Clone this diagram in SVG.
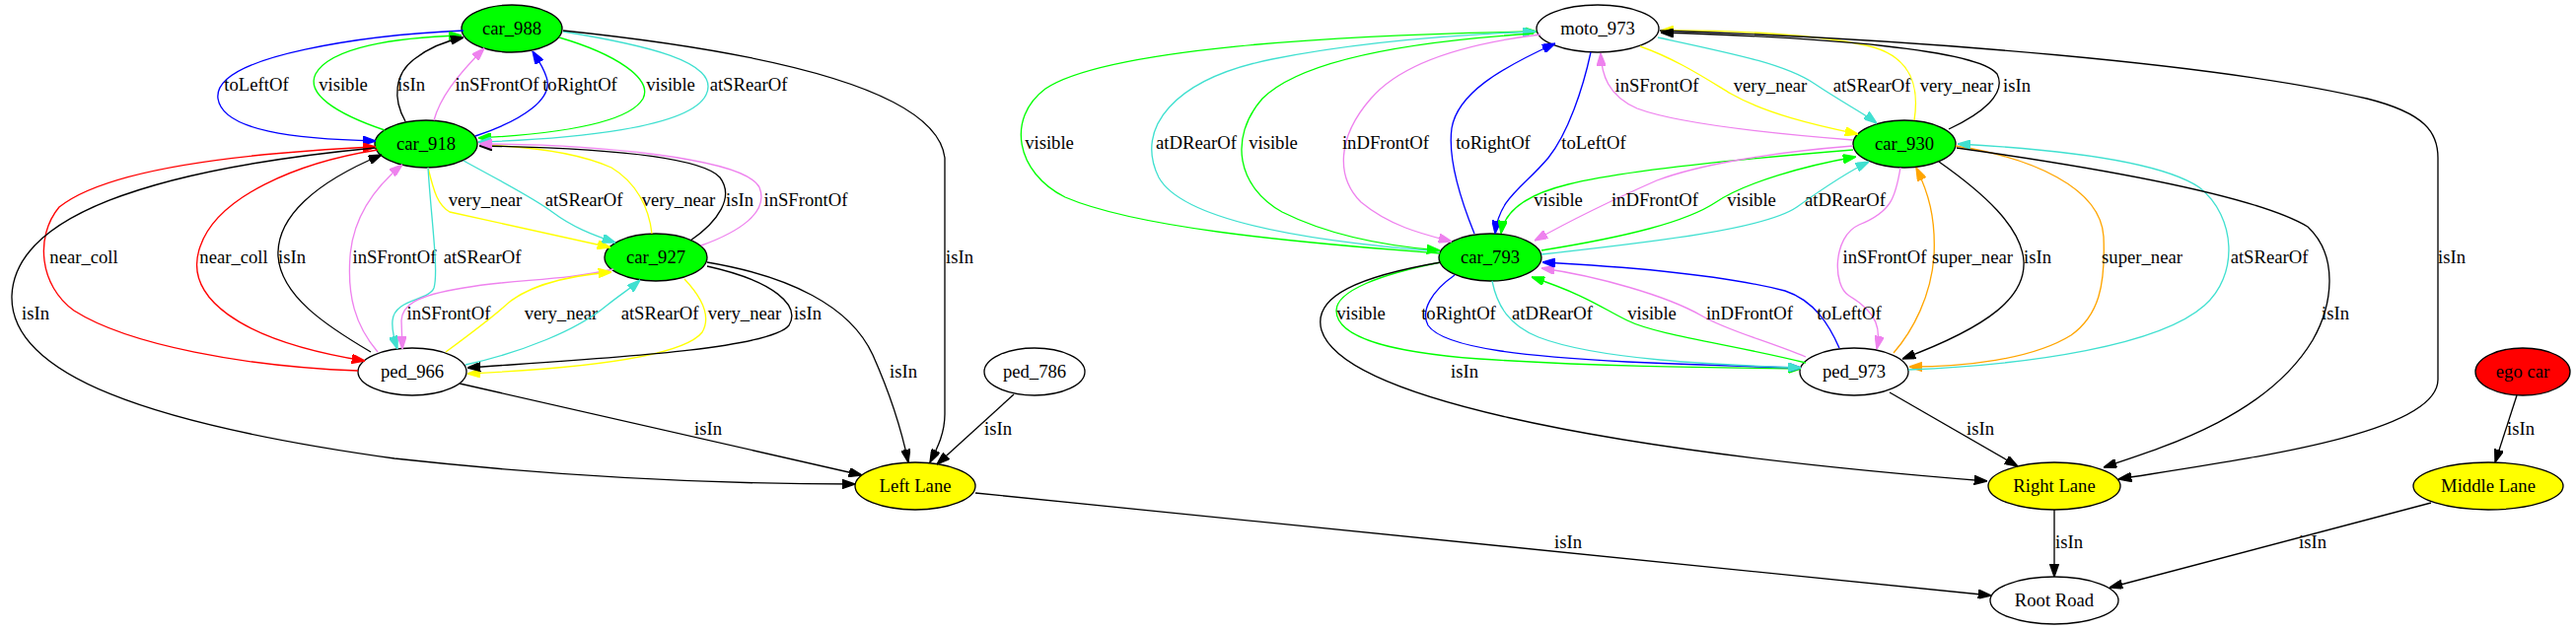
<svg xmlns="http://www.w3.org/2000/svg" width="2612" height="639" viewBox="0 0 2612 639">
<style>
.nd ellipse{stroke:#000;stroke-width:1.33}
.lime{fill:#00ff00}.yel{fill:#ffff00}.wht{fill:#ffffff}.red{fill:#ff0000}
text{font-family:"Liberation Serif","Times New Roman",serif;font-size:18.67px;text-anchor:middle;fill:#000}
.e{fill:none;stroke-width:1.33}
.k{stroke:#000000}.b{stroke:#0000ff}.g{stroke:#00ff00}.r{stroke:#ff0000}.v{stroke:#ee82ee}.c{stroke:#40e0d0}.y{stroke:#ffff00}.o{stroke:#ffa500}
</style>
<defs>
<marker id="ak" viewBox="0 0 10 7" refX="10" refY="3.5" markerWidth="13.3" markerHeight="9.3" markerUnits="userSpaceOnUse" orient="auto"><path d="M0,0L10,3.5L0,7z" fill="#000000" stroke="#000000"/></marker>
<marker id="ab" viewBox="0 0 10 7" refX="10" refY="3.5" markerWidth="13.3" markerHeight="9.3" markerUnits="userSpaceOnUse" orient="auto"><path d="M0,0L10,3.5L0,7z" fill="#0000ff" stroke="#0000ff"/></marker>
<marker id="ag" viewBox="0 0 10 7" refX="10" refY="3.5" markerWidth="13.3" markerHeight="9.3" markerUnits="userSpaceOnUse" orient="auto"><path d="M0,0L10,3.5L0,7z" fill="#00ff00" stroke="#00ff00"/></marker>
<marker id="ar" viewBox="0 0 10 7" refX="10" refY="3.5" markerWidth="13.3" markerHeight="9.3" markerUnits="userSpaceOnUse" orient="auto"><path d="M0,0L10,3.5L0,7z" fill="#ff0000" stroke="#ff0000"/></marker>
<marker id="av" viewBox="0 0 10 7" refX="10" refY="3.5" markerWidth="13.3" markerHeight="9.3" markerUnits="userSpaceOnUse" orient="auto"><path d="M0,0L10,3.5L0,7z" fill="#ee82ee" stroke="#ee82ee"/></marker>
<marker id="ac" viewBox="0 0 10 7" refX="10" refY="3.5" markerWidth="13.3" markerHeight="9.3" markerUnits="userSpaceOnUse" orient="auto"><path d="M0,0L10,3.5L0,7z" fill="#40e0d0" stroke="#40e0d0"/></marker>
<marker id="ay" viewBox="0 0 10 7" refX="10" refY="3.5" markerWidth="13.3" markerHeight="9.3" markerUnits="userSpaceOnUse" orient="auto"><path d="M0,0L10,3.5L0,7z" fill="#ffff00" stroke="#ffff00"/></marker>
<marker id="ao" viewBox="0 0 10 7" refX="10" refY="3.5" markerWidth="13.3" markerHeight="9.3" markerUnits="userSpaceOnUse" orient="auto"><path d="M0,0L10,3.5L0,7z" fill="#ffa500" stroke="#ffa500"/></marker>
</defs>
<rect width="2612" height="639" fill="#ffffff"/>
<g id="nodes">
<g id="car_988" class="nd"><ellipse class="lime" cx="519" cy="29" rx="51" ry="24"/><text x="519" y="35">car_988</text></g>
<g id="car_918" class="nd"><ellipse class="lime" cx="432" cy="146" rx="52" ry="24"/><text x="432" y="152">car_918</text></g>
<g id="car_927" class="nd"><ellipse class="lime" cx="665" cy="261" rx="52" ry="24"/><text x="665" y="267">car_927</text></g>
<g id="ped_966" class="nd"><ellipse class="wht" cx="418" cy="377" rx="55" ry="24"/><text x="418" y="383">ped_966</text></g>
<g id="ped_786" class="nd"><ellipse class="wht" cx="1049" cy="377" rx="51" ry="24"/><text x="1049" y="383">ped_786</text></g>
<g id="left_lane" class="nd"><ellipse class="yel" cx="928" cy="493" rx="61" ry="24"/><text x="928" y="499">Left Lane</text></g>
<g id="moto_973" class="nd"><ellipse class="wht" cx="1620" cy="29" rx="62" ry="24"/><text x="1620" y="35">moto_973</text></g>
<g id="car_930" class="nd"><ellipse class="lime" cx="1931" cy="146" rx="52" ry="24"/><text x="1931" y="152">car_930</text></g>
<g id="car_793" class="nd"><ellipse class="lime" cx="1511" cy="261" rx="52" ry="24"/><text x="1511" y="267">car_793</text></g>
<g id="ped_973" class="nd"><ellipse class="wht" cx="1880" cy="377" rx="55" ry="24"/><text x="1880" y="383">ped_973</text></g>
<g id="right_lane" class="nd"><ellipse class="yel" cx="2083" cy="493" rx="67" ry="24"/><text x="2083" y="499">Right Lane</text></g>
<g id="middle_lane" class="nd"><ellipse class="yel" cx="2523" cy="493" rx="76" ry="24"/><text x="2523" y="499">Middle Lane</text></g>
<g id="ego_car" class="nd"><ellipse class="red" cx="2558" cy="377" rx="48" ry="24"/><text x="2558" y="383">ego car</text></g>
<g id="root_road" class="nd"><ellipse class="wht" cx="2083" cy="609" rx="65" ry="24"/><text x="2083" y="615">Root Road</text></g>
</g>
<g id="connectors">
<g><path class="e b" d="M470,31 C380,35 215,55 221,100 C226,133 300,141 381,143" marker-end="url(#ab)"/><text x="260" y="92">toLeftOf</text></g>
<g><path class="e g" d="M390,132 C340,115 310,95 320,75 C335,48 400,38 468,36" marker-end="url(#ag)"/><text x="348" y="92">visible</text></g>
<g><path class="e k" d="M411,123 C398,100 400,75 420,60 C435,48 450,42 470,38" marker-end="url(#ak)"/><text x="417" y="92">isIn</text></g>
<g><path class="e v" d="M440,122 C446,100 462,78 491,49" marker-end="url(#av)"/><text x="504" y="92">inSFrontOf</text></g>
<g><path class="e b" d="M482,138 C530,122 562,100 554,78 C550,66 545,60 540,52" marker-end="url(#ab)"/><text x="588" y="92">toRightOf</text></g>
<g><path class="e g" d="M567,38 C625,55 662,80 652,100 C637,126 560,136 485,140" marker-end="url(#ag)"/><text x="680" y="92">visible</text></g>
<g><path class="e c" d="M571,32 C650,45 732,62 716,96 C700,130 580,141 485,144" marker-end="url(#ac)"/><text x="759" y="92">atSRearOf</text></g>
<g><path class="e k" d="M571,31 C800,55 950,95 958,160 L958,420 C958,440 950,455 943,469" marker-end="url(#ak)"/><text x="973" y="267">isIn</text></g>
<g><path class="e y" d="M434,170 C440,195 444,208 456,215 L619,251" marker-end="url(#ay)"/><text x="492" y="209">very_near</text></g>
<g><path class="e c" d="M470,163 C510,185 540,200 560,215 C580,230 600,238 624,246" marker-end="url(#ac)"/><text x="592" y="209">atSRearOf</text></g>
<g><path class="e y" d="M661,237 C658,210 645,185 620,170 C580,152 520,148 486,147" marker-end="url(#ay)"/><text x="688" y="209">very_near</text></g>
<g><path class="e k" d="M700,244 C728,225 745,200 730,180 C710,158 600,150 486,148" marker-end="url(#ak)"/><text x="750" y="209">isIn</text></g>
<g><path class="e v" d="M711,249 C750,235 780,215 770,190 C755,160 600,146 486,146" marker-end="url(#av)"/><text x="817" y="209">inSFrontOf</text></g>
<g><path class="e r" d="M363,376 C250,372 130,350 75,315 C40,290 35,240 60,210 C110,170 250,155 381,149" marker-end="url(#ar)"/><text x="85" y="267">near_coll</text></g>
<g><path class="e r" d="M383,152 C300,165 220,200 203,250 C185,300 240,345 370,366" marker-end="url(#ar)"/><text x="237" y="267">near_coll</text></g>
<g><path class="e k" d="M376,357 C330,330 285,300 282,260 C280,220 320,185 387,157" marker-end="url(#ak)"/><text x="296" y="267">isIn</text></g>
<g><path class="e v" d="M383,357 C360,330 352,300 355,260 C358,220 380,190 408,167" marker-end="url(#av)"/><text x="400" y="267">inSFrontOf</text></g>
<g><path class="e c" d="M434,170 C437,220 445,275 440,292 C435,305 400,303 398,325 C397,335 400,345 403,354" marker-end="url(#ac)"/><text x="489" y="267">atSRearOf</text></g>
<g><path class="e v" d="M622,273 C570,285 520,283 470,292 C420,300 408,310 407,325 L408,354" marker-end="url(#av)"/><text x="455" y="324">inSFrontOf</text></g>
<g><path class="e y" d="M452,357 C475,340 495,325 510,312 C530,292 570,280 620,276" marker-end="url(#ay)"/><text x="569" y="324">very_near</text></g>
<g><path class="e c" d="M472,370 C530,357 585,335 615,310 C630,298 640,292 649,284" marker-end="url(#ac)"/><text x="669" y="324">atSRearOf</text></g>
<g><path class="e y" d="M694,283 C710,300 722,320 712,337 C690,365 560,375 474,379" marker-end="url(#ay)"/><text x="755" y="324">very_near</text></g>
<g><path class="e k" d="M717,270 C785,285 812,310 800,330 C780,355 600,364 474,373" marker-end="url(#ak)"/><text x="819" y="324">isIn</text></g>
<g><path class="e k" d="M717,266 C800,280 862,310 885,360 C905,405 915,440 921,469" marker-end="url(#ak)"/><text x="916" y="383">isIn</text></g>
<g><path class="e k" d="M380,150 C150,172 15,220 12,300 C10,380 150,430 400,465 C600,487 760,491 867,491" marker-end="url(#ak)"/><text x="36" y="324">isIn</text></g>
<g><path class="e k" d="M466,389 L874,482" marker-end="url(#ak)"/><text x="718" y="441">isIn</text></g>
<g><path class="e k" d="M1028,400 L950,471" marker-end="url(#ak)"/><text x="1012" y="441">isIn</text></g>
<g><path class="e k" d="M989,500 L2019,604" marker-end="url(#ak)"/><text x="1590" y="556">isIn</text></g>
<g><path class="e g" d="M1460,257 C1300,245 1150,230 1080,200 C1030,175 1020,120 1060,90 C1120,50 1350,35 1558,32" marker-end="url(#ag)"/><text x="1064" y="151">visible</text></g>
<g><path class="e c" d="M1459,255 C1330,245 1200,225 1175,180 C1150,130 1190,80 1290,60 C1380,42 1480,35 1557,32" marker-end="url(#ac)"/><text x="1213" y="151">atDRearOf</text></g>
<g><path class="e g" d="M1555,34 C1430,42 1320,60 1280,100 C1245,140 1255,190 1300,215 C1350,240 1410,250 1460,254" marker-end="url(#ag)"/><text x="1291" y="151">visible</text></g>
<g><path class="e v" d="M1562,35 C1480,45 1420,65 1390,100 C1355,140 1355,180 1380,205 C1410,230 1445,238 1472,245" marker-end="url(#av)"/><text x="1405" y="151">inDFrontOf</text></g>
<g><path class="e b" d="M1495,237 C1480,200 1468,160 1472,130 C1478,95 1520,70 1577,44" marker-end="url(#ab)"/><text x="1514" y="151">toRightOf</text></g>
<g><path class="e b" d="M1613,53 C1605,90 1590,135 1570,160 C1545,190 1520,200 1516,237" marker-end="url(#ab)"/><text x="1616" y="151">toLeftOf</text></g>
<g><path class="e v" d="M1879,142 C1790,135 1700,125 1660,110 C1630,97 1624,75 1623,54" marker-end="url(#av)"/><text x="1680" y="93">inSFrontOf</text></g>
<g><path class="e y" d="M1663,47 C1700,60 1730,80 1755,95 C1790,115 1840,127 1884,136" marker-end="url(#ay)"/><text x="1795" y="93">very_near</text></g>
<g><path class="e c" d="M1681,38 C1760,55 1810,65 1840,85 C1870,105 1890,115 1903,125" marker-end="url(#ac)"/><text x="1898" y="93">atSRearOf</text></g>
<g><path class="e y" d="M1941,122 C1946,90 1940,60 1900,48 C1850,35 1750,30 1684,31" marker-end="url(#ay)"/><text x="1984" y="93">very_near</text></g>
<g><path class="e k" d="M1976,131 C2010,115 2035,95 2025,75 C2005,50 1850,38 1684,33" marker-end="url(#ak)"/><text x="2045" y="93">isIn</text></g>
<g><path class="e k" d="M1683,31 C1950,40 2250,65 2400,100 C2460,115 2472,135 2472,160 L2472,385 C2472,440 2280,465 2148,486" marker-end="url(#ak)"/><text x="2486" y="267">isIn</text></g>
<g><path class="e g" d="M1879,152 C1780,160 1650,172 1590,187 C1545,198 1525,215 1522,237" marker-end="url(#ag)"/><text x="1580" y="209">visible</text></g>
<g><path class="e v" d="M1879,148 C1790,155 1720,168 1680,183 C1630,205 1590,225 1556,244" marker-end="url(#av)"/><text x="1678" y="209">inDFrontOf</text></g>
<g><path class="e g" d="M1563,254 C1650,240 1710,225 1740,205 C1770,185 1830,168 1882,159" marker-end="url(#ag)"/><text x="1776" y="209">visible</text></g>
<g><path class="e c" d="M1563,258 C1680,245 1790,232 1822,210 C1850,190 1872,175 1895,164" marker-end="url(#ac)"/><text x="1871" y="209">atDRearOf</text></g>
<g><path class="e v" d="M1927,170 C1922,200 1918,215 1885,228 C1858,240 1858,290 1875,300 C1905,318 1907,335 1903,354" marker-end="url(#av)"/><text x="1911" y="267">inSFrontOf</text></g>
<g><path class="e o" d="M1920,358 C1940,335 1958,300 1961,260 C1963,220 1955,195 1943,170" marker-end="url(#ao)"/><text x="2000" y="267">super_near</text></g>
<g><path class="e k" d="M1966,164 C2010,195 2050,230 2052,265 C2054,300 2020,330 1929,364" marker-end="url(#ak)"/><text x="2066" y="267">isIn</text></g>
<g><path class="e o" d="M1983,148 C2060,160 2130,190 2133,240 C2135,290 2128,320 2100,340 C2060,365 1990,372 1936,372" marker-end="url(#ao)"/><text x="2172" y="267">super_near</text></g>
<g><path class="e c" d="M1935,375 C2060,370 2190,350 2235,310 C2270,280 2268,220 2230,190 C2185,160 2060,150 1985,146" marker-end="url(#ac)"/><text x="2301" y="267">atSRearOf</text></g>
<g><path class="e k" d="M1984,150 C2140,172 2290,200 2340,230 C2372,260 2365,310 2345,345 C2300,420 2200,452 2133,474" marker-end="url(#ak)"/><text x="2368" y="324">isIn</text></g>
<g><path class="e g" d="M1461,266 C1400,278 1355,295 1355,315 C1355,345 1420,358 1500,364 C1620,372 1740,373 1826,374" marker-end="url(#ag)"/><text x="1380" y="324">visible</text></g>
<g><path class="e b" d="M1475,279 C1452,295 1440,315 1448,330 C1465,355 1560,362 1650,367 C1720,370 1780,372 1826,373" marker-end="url(#ab)"/><text x="1479" y="324">toRightOf</text></g>
<g><path class="e c" d="M1513,285 C1518,310 1530,330 1560,342 C1620,365 1740,370 1826,373" marker-end="url(#ac)"/><text x="1574" y="324">atDRearOf</text></g>
<g><path class="e g" d="M1831,368 C1760,350 1680,340 1650,325 C1625,313 1610,300 1553,281" marker-end="url(#ag)"/><text x="1675" y="324">visible</text></g>
<g><path class="e v" d="M1831,362 C1790,345 1750,335 1725,320 C1690,300 1620,280 1563,272" marker-end="url(#av)"/><text x="1774" y="324">inDFrontOf</text></g>
<g><path class="e b" d="M1865,353 C1855,330 1840,305 1810,295 C1740,277 1640,270 1564,266" marker-end="url(#ab)"/><text x="1875" y="324">toLeftOf</text></g>
<g><path class="e k" d="M1461,266 C1380,280 1330,300 1340,335 C1360,400 1600,455 2015,488" marker-end="url(#ak)"/><text x="1485" y="383">isIn</text></g>
<g><path class="e k" d="M1916,398 L2046,473" marker-end="url(#ak)"/><text x="2008" y="441">isIn</text></g>
<g><path class="e k" d="M2552,401 L2530,469" marker-end="url(#ak)"/><text x="2556" y="441">isIn</text></g>
<g><path class="e k" d="M2083,517 L2083,585" marker-end="url(#ak)"/><text x="2098" y="556">isIn</text></g>
<g><path class="e k" d="M2465,510 L2139,596" marker-end="url(#ak)"/><text x="2345" y="556">isIn</text></g>
</g>
</svg>
